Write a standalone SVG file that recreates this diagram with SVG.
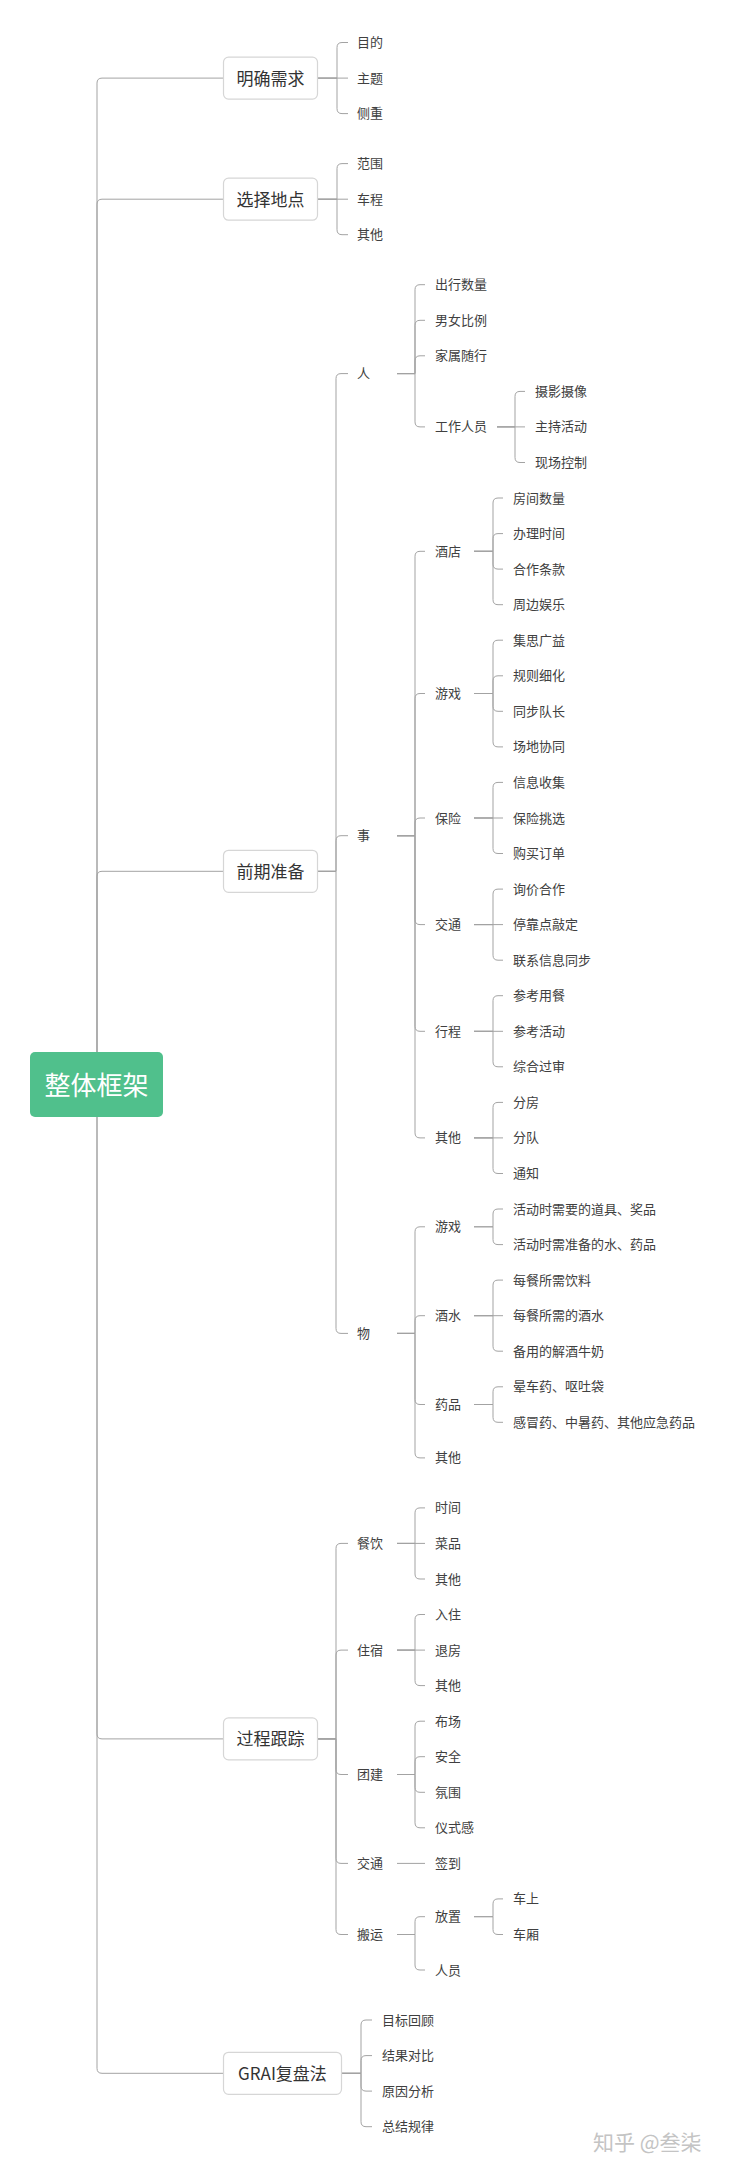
<svg xmlns="http://www.w3.org/2000/svg" width="734" height="2171" viewBox="0 0 734 2171">
<style>
text{font-family:"Noto Sans CJK SC","Noto Sans",sans-serif;fill:#404040;dominant-baseline:central;transform:translateY(-1px)}
.ln{fill:none;stroke:#a3a3a3;stroke-width:1}
.box{fill:#fff;stroke:#d6d6d6;stroke-width:1.2}
.t1{font-size:17px;fill:#333;text-anchor:middle}
.t{font-size:13px}
.root{fill:#50c08c}
.rt{font-size:26px;fill:#fff;text-anchor:middle}
.wm{font-size:21px;fill:#c4c4c4}
</style>
<rect width="734" height="2171" fill="#fff"/>
<g id="connectors" class="ln">
<path d="M97 1084.6V83.1Q97 78.1 102 78.1H223"/>
<path d="M97 1084.6V204.2Q97 199.2 102 199.2H223"/>
<path d="M97 1084.6V876.3Q97 871.3 102 871.3H223"/>
<path d="M97 1084.6V1733.9Q97 1738.9 102 1738.9H223"/>
<path d="M97 1084.6V2068.3Q97 2073.3 102 2073.3H223"/>
<path d="M318 78.1H337V47.5Q337 42.5 342 42.5H348"/>
<path d="M318 78.1H348"/>
<path d="M318 78.1H337V108.6Q337 113.6 342 113.6H348"/>
<path d="M318 199.2H337V168.6Q337 163.6 342 163.6H348"/>
<path d="M318 199.2H348"/>
<path d="M318 199.2H337V229.7Q337 234.7 342 234.7H348"/>
<path d="M318 871.3H336V378.6Q336 373.6 341 373.6H348"/>
<path d="M318 871.3H336V840.7Q336 835.7 341 835.7H348"/>
<path d="M318 871.3H336V1328.4Q336 1333.4 341 1333.4H348"/>
<path d="M397 373.6H415V289.7Q415 284.7 420 284.7H425"/>
<path d="M397 373.6H415V325.3Q415 320.3 420 320.3H425"/>
<path d="M397 373.6H415V360.8Q415 355.8 420 355.8H425"/>
<path d="M397 373.6H415V421.9Q415 426.9 420 426.9H425"/>
<path d="M497 426.9H515V396.4Q515 391.4 520 391.4H525"/>
<path d="M497 426.9H525"/>
<path d="M497 426.9H515V457.5Q515 462.5 520 462.5H525"/>
<path d="M397 835.7H415V556.3Q415 551.3 420 551.3H425"/>
<path d="M397 835.7H415V698.5Q415 693.5 420 693.5H425"/>
<path d="M397 835.7H415V823Q415 818 420 818H425"/>
<path d="M397 835.7H415V919.6Q415 924.6 420 924.6H425"/>
<path d="M397 835.7H415V1026.3Q415 1031.3 420 1031.3H425"/>
<path d="M397 835.7H415V1132.9Q415 1137.9 420 1137.9H425"/>
<path d="M474 551.3H493V503Q493 498 498 498H503"/>
<path d="M474 551.3H493V538.6Q493 533.6 498 533.6H503"/>
<path d="M474 551.3H493V564.1Q493 569.1 498 569.1H503"/>
<path d="M474 551.3H493V599.7Q493 604.7 498 604.7H503"/>
<path d="M474 693.5H493V645.2Q493 640.2 498 640.2H503"/>
<path d="M474 693.5H493V680.8Q493 675.8 498 675.8H503"/>
<path d="M474 693.5H493V706.3Q493 711.3 498 711.3H503"/>
<path d="M474 693.5H493V741.9Q493 746.9 498 746.9H503"/>
<path d="M474 818H493V787.4Q493 782.4 498 782.4H503"/>
<path d="M474 818H503"/>
<path d="M474 818H493V848.5Q493 853.5 498 853.5H503"/>
<path d="M474 924.6H493V894.1Q493 889.1 498 889.1H503"/>
<path d="M474 924.6H503"/>
<path d="M474 924.6H493V955.2Q493 960.2 498 960.2H503"/>
<path d="M474 1031.3H493V1000.7Q493 995.7 498 995.7H503"/>
<path d="M474 1031.3H503"/>
<path d="M474 1031.3H493V1061.8Q493 1066.8 498 1066.8H503"/>
<path d="M474 1137.9H493V1107.4Q493 1102.4 498 1102.4H503"/>
<path d="M474 1137.9H503"/>
<path d="M474 1137.9H493V1168.5Q493 1173.5 498 1173.5H503"/>
<path d="M397 1333.4H415V1231.8Q415 1226.8 420 1226.8H425"/>
<path d="M397 1333.4H415V1320.7Q415 1315.7 420 1315.7H425"/>
<path d="M397 1333.4H415V1399.5Q415 1404.5 420 1404.5H425"/>
<path d="M397 1333.4H415V1452.9Q415 1457.9 420 1457.9H425"/>
<path d="M474 1226.8H493V1214Q493 1209 498 1209H503"/>
<path d="M474 1226.8H493V1239.6Q493 1244.6 498 1244.6H503"/>
<path d="M474 1315.7H493V1285.1Q493 1280.1 498 1280.1H503"/>
<path d="M474 1315.7H503"/>
<path d="M474 1315.7H493V1346.2Q493 1351.2 498 1351.2H503"/>
<path d="M474 1404.5H493V1391.8Q493 1386.8 498 1386.8H503"/>
<path d="M474 1404.5H493V1417.3Q493 1422.3 498 1422.3H503"/>
<path d="M318 1738.9H336V1548.4Q336 1543.4 341 1543.4H348"/>
<path d="M318 1738.9H336V1655.1Q336 1650.1 341 1650.1H348"/>
<path d="M318 1738.9H336V1769.5Q336 1774.5 341 1774.5H348"/>
<path d="M318 1738.9H336V1858.4Q336 1863.4 341 1863.4H348"/>
<path d="M318 1738.9H336V1929.5Q336 1934.5 341 1934.5H348"/>
<path d="M397 1543.4H415V1512.9Q415 1507.9 420 1507.9H425"/>
<path d="M397 1543.4H425"/>
<path d="M397 1543.4H415V1574Q415 1579 420 1579H425"/>
<path d="M397 1650.1H415V1619.5Q415 1614.5 420 1614.5H425"/>
<path d="M397 1650.1H425"/>
<path d="M397 1650.1H415V1680.6Q415 1685.6 420 1685.6H425"/>
<path d="M397 1774.5H415V1726.2Q415 1721.2 420 1721.2H425"/>
<path d="M397 1774.5H415V1761.7Q415 1756.7 420 1756.7H425"/>
<path d="M397 1774.5H415V1787.3Q415 1792.3 420 1792.3H425"/>
<path d="M397 1774.5H415V1822.8Q415 1827.8 420 1827.8H425"/>
<path d="M397 1863.4H425"/>
<path d="M397 1934.5H415V1921.7Q415 1916.7 420 1916.7H425"/>
<path d="M397 1934.5H415V1965Q415 1970 420 1970H425"/>
<path d="M474 1916.7H493V1903.9Q493 1898.9 498 1898.9H503"/>
<path d="M474 1916.7H493V1929.5Q493 1934.5 498 1934.5H503"/>
<path d="M342 2073.3H361V2025Q361 2020 366 2020H372"/>
<path d="M342 2073.3H361V2060.6Q361 2055.6 366 2055.6H372"/>
<path d="M342 2073.3H361V2086.1Q361 2091.1 366 2091.1H372"/>
<path d="M342 2073.3H361V2121.7Q361 2126.7 366 2126.7H372"/>
</g>
<g id="root"><rect class="root" x="30" y="1052" width="133" height="65" rx="5"/><text class="rt" x="96.5" y="1084.6">整体框架</text></g>
<g id="n-mingque"><rect class="box" x="223.5" y="57.1" width="94" height="42" rx="5"/><text class="t1" x="270.5" y="78.1">明确需求</text></g>
<g id="n-mudi"><text class="t" x="357" y="42.5">目的</text></g>
<g id="n-zhuti"><text class="t" x="357" y="78.1">主题</text></g>
<g id="n-cezhong"><text class="t" x="357" y="113.6">侧重</text></g>
<g id="n-xuanze"><rect class="box" x="223.5" y="178.2" width="94" height="42" rx="5"/><text class="t1" x="270.5" y="199.2">选择地点</text></g>
<g id="n-fanwei"><text class="t" x="357" y="163.6">范围</text></g>
<g id="n-checheng"><text class="t" x="357" y="199.2">车程</text></g>
<g id="n-qita1"><text class="t" x="357" y="234.7">其他</text></g>
<g id="n-qianqi"><rect class="box" x="223.5" y="850.3" width="94" height="42" rx="5"/><text class="t1" x="270.5" y="871.3">前期准备</text></g>
<g id="n-ren"><text class="t" x="357" y="373.6">人</text></g>
<g id="n-chuxing"><text class="t" x="435" y="284.7">出行数量</text></g>
<g id="n-nannv"><text class="t" x="435" y="320.3">男女比例</text></g>
<g id="n-jiashu"><text class="t" x="435" y="355.8">家属随行</text></g>
<g id="n-gongzuo"><text class="t" x="435" y="426.9">工作人员</text></g>
<g id="n-sheying"><text class="t" x="535" y="391.4">摄影摄像</text></g>
<g id="n-zhuchi"><text class="t" x="535" y="426.9">主持活动</text></g>
<g id="n-xianchang"><text class="t" x="535" y="462.5">现场控制</text></g>
<g id="n-shi"><text class="t" x="357" y="835.7">事</text></g>
<g id="n-jiudian"><text class="t" x="435" y="551.3">酒店</text></g>
<g id="n-fangjian"><text class="t" x="513" y="498">房间数量</text></g>
<g id="n-banli"><text class="t" x="513" y="533.6">办理时间</text></g>
<g id="n-hezuo"><text class="t" x="513" y="569.1">合作条款</text></g>
<g id="n-zhoubian"><text class="t" x="513" y="604.7">周边娱乐</text></g>
<g id="n-youxi1"><text class="t" x="435" y="693.5">游戏</text></g>
<g id="n-jisi"><text class="t" x="513" y="640.2">集思广益</text></g>
<g id="n-guize"><text class="t" x="513" y="675.8">规则细化</text></g>
<g id="n-tongbu"><text class="t" x="513" y="711.3">同步队长</text></g>
<g id="n-changdi"><text class="t" x="513" y="746.9">场地协同</text></g>
<g id="n-baoxian"><text class="t" x="435" y="818">保险</text></g>
<g id="n-xinxi"><text class="t" x="513" y="782.4">信息收集</text></g>
<g id="n-tiaoxuan"><text class="t" x="513" y="818">保险挑选</text></g>
<g id="n-goumai"><text class="t" x="513" y="853.5">购买订单</text></g>
<g id="n-jiaotong1"><text class="t" x="435" y="924.6">交通</text></g>
<g id="n-xunjia"><text class="t" x="513" y="889.1">询价合作</text></g>
<g id="n-tingkao"><text class="t" x="513" y="924.6">停靠点敲定</text></g>
<g id="n-lianxi"><text class="t" x="513" y="960.2">联系信息同步</text></g>
<g id="n-xingcheng"><text class="t" x="435" y="1031.3">行程</text></g>
<g id="n-yongcan"><text class="t" x="513" y="995.7">参考用餐</text></g>
<g id="n-huodong"><text class="t" x="513" y="1031.3">参考活动</text></g>
<g id="n-guoshen"><text class="t" x="513" y="1066.8">综合过审</text></g>
<g id="n-qita2"><text class="t" x="435" y="1137.9">其他</text></g>
<g id="n-fenfang"><text class="t" x="513" y="1102.4">分房</text></g>
<g id="n-fendui"><text class="t" x="513" y="1137.9">分队</text></g>
<g id="n-tongzhi"><text class="t" x="513" y="1173.5">通知</text></g>
<g id="n-wu"><text class="t" x="357" y="1333.4">物</text></g>
<g id="n-youxi2"><text class="t" x="435" y="1226.8">游戏</text></g>
<g id="n-daoju"><text class="t" x="513" y="1209">活动时需要的道具、奖品</text></g>
<g id="n-shui"><text class="t" x="513" y="1244.6">活动时需准备的水、药品</text></g>
<g id="n-jiushui"><text class="t" x="435" y="1315.7">酒水</text></g>
<g id="n-yinliao"><text class="t" x="513" y="1280.1">每餐所需饮料</text></g>
<g id="n-jiu"><text class="t" x="513" y="1315.7">每餐所需的酒水</text></g>
<g id="n-niunai"><text class="t" x="513" y="1351.2">备用的解酒牛奶</text></g>
<g id="n-yaopin"><text class="t" x="435" y="1404.5">药品</text></g>
<g id="n-yunche"><text class="t" x="513" y="1386.8">晕车药、呕吐袋</text></g>
<g id="n-ganmao"><text class="t" x="513" y="1422.3">感冒药、中暑药、其他应急药品</text></g>
<g id="n-qita3"><text class="t" x="435" y="1457.9">其他</text></g>
<g id="n-guocheng"><rect class="box" x="223.5" y="1717.9" width="94" height="42" rx="5"/><text class="t1" x="270.5" y="1738.9">过程跟踪</text></g>
<g id="n-canyin"><text class="t" x="357" y="1543.4">餐饮</text></g>
<g id="n-shijian"><text class="t" x="435" y="1507.9">时间</text></g>
<g id="n-caipin"><text class="t" x="435" y="1543.4">菜品</text></g>
<g id="n-qita4"><text class="t" x="435" y="1579">其他</text></g>
<g id="n-zhusu"><text class="t" x="357" y="1650.1">住宿</text></g>
<g id="n-ruzhu"><text class="t" x="435" y="1614.5">入住</text></g>
<g id="n-tuifang"><text class="t" x="435" y="1650.1">退房</text></g>
<g id="n-qita5"><text class="t" x="435" y="1685.6">其他</text></g>
<g id="n-tuanjian"><text class="t" x="357" y="1774.5">团建</text></g>
<g id="n-buchang"><text class="t" x="435" y="1721.2">布场</text></g>
<g id="n-anquan"><text class="t" x="435" y="1756.7">安全</text></g>
<g id="n-fenwei"><text class="t" x="435" y="1792.3">氛围</text></g>
<g id="n-yishi"><text class="t" x="435" y="1827.8">仪式感</text></g>
<g id="n-jiaotong2"><text class="t" x="357" y="1863.4">交通</text></g>
<g id="n-qiandao"><text class="t" x="435" y="1863.4">签到</text></g>
<g id="n-banyun"><text class="t" x="357" y="1934.5">搬运</text></g>
<g id="n-fangzhi"><text class="t" x="435" y="1916.7">放置</text></g>
<g id="n-cheshang"><text class="t" x="513" y="1898.9">车上</text></g>
<g id="n-chexiang"><text class="t" x="513" y="1934.5">车厢</text></g>
<g id="n-renyuan"><text class="t" x="435" y="1970">人员</text></g>
<g id="n-grai"><rect class="box" x="223.5" y="2052.3" width="118" height="42" rx="5"/><text class="t1" x="282.5" y="2073.3">GRAI复盘法</text></g>
<g id="n-mubiao"><text class="t" x="382" y="2020">目标回顾</text></g>
<g id="n-jieguo"><text class="t" x="382" y="2055.6">结果对比</text></g>
<g id="n-yuanyin"><text class="t" x="382" y="2091.1">原因分析</text></g>
<g id="n-zongjie"><text class="t" x="382" y="2126.7">总结规律</text></g>
<text class="wm" x="593" y="2142">知乎 @叁柒</text>
</svg>
